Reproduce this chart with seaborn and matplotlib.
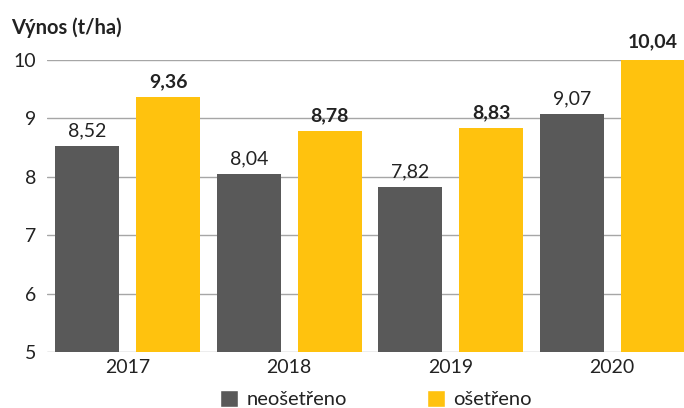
import pandas as pd
import seaborn as sns
import matplotlib.pyplot as plt
from matplotlib.patches import Patch

# Data
years = ["2017", "2018", "2019", "2020"]
neosetreno = [8.52, 8.04, 7.82, 9.07]
osetreno = [9.36, 8.78, 8.83, 10.04]
series_names = ["neošetřeno", "ošetřeno"]
colors = ["#595959", "#FFC20E"]

df = pd.DataFrame({
    "year": years * 2,
    "value": neosetreno + osetreno,
    "series": [series_names[0]] * 4 + [series_names[1]] * 4,
})

sns.set_style("white")
plt.rcParams['font.family'] = ['Lato', 'DejaVu Sans']

fig = plt.figure(figsize=(6.84, 4.08), dpi=100)
ax = fig.add_axes([47 / 684, 56 / 408, 646 / 684, 292 / 408])

sns.barplot(data=df, x="year", y="value", hue="series", palette=colors,
            saturation=1, width=1.0, gap=0.21, linewidth=0, legend=False,
            ax=ax, zorder=2)

ax.set_ylim(5, 10)
ax.set_yticks(range(5, 11))
ax.yaxis.grid(True, color="#A6A6A6", linewidth=1, zorder=0)
ax.set_axisbelow(True)
for s in ax.spines.values():
    s.set_visible(False)
ax.tick_params(axis="y", length=0, pad=8, labelsize=14, labelcolor="#222222")
ax.tick_params(axis="x", length=0, pad=5, labelsize=14, labelcolor="#222222")
ax.set_xlabel("")
ax.set_ylabel("")

# Value labels, comma as decimal separator
for cont, weight in zip(ax.containers, ["normal", "bold"]):
    labels = [f"{b.get_height():.2f}".replace(".", ",") for b in cont]
    texts = ax.bar_label(cont, labels=labels, padding=5, fontsize=14,
                         fontweight=weight, color="#222222")
    for t in texts:
        t.set_annotation_clip(False)
        t.set_clip_on(False)

fig.text(11 / 684, 1 - 28 / 408, "Výnos (t/ha)", fontsize=14.5, fontweight="bold",
         color="#222222", va="center", ha="left")

handles = [Patch(facecolor=c, label=n) for c, n in zip(colors, series_names)]
fig.legend(handles=handles, loc="center", bbox_to_anchor=(376 / 684, 1 - 399 / 408),
           ncol=2, frameon=False, fontsize=14.5, handlelength=0.9, handleheight=0.9,
           handletextpad=0.4, columnspacing=4.0, labelcolor="#222222")

fig.savefig("out.png", dpi=100)
